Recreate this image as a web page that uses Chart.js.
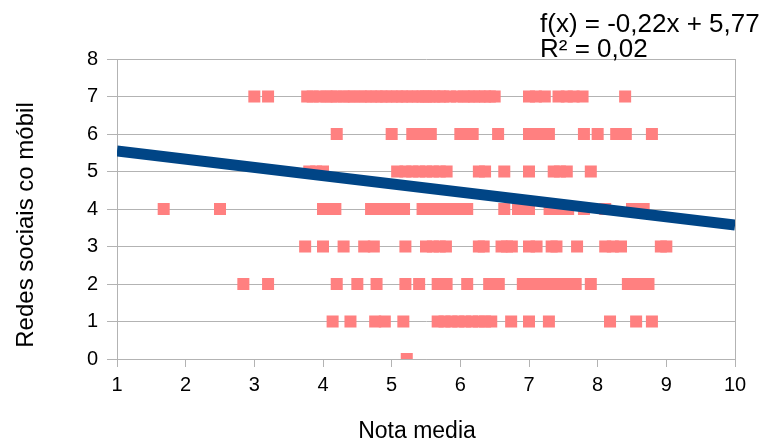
<!DOCTYPE html>
<html>
<head>
<meta charset="utf-8">
<script src="https://cdn.jsdelivr.net/npm/chart.js@4/dist/chart.umd.min.js"></script>
<style>
  html, body { margin: 0; padding: 0; background: #ffffff; }
  #wrap { width: 767px; height: 446px; position: relative; }
</style>
</head>
<body>
<div id="wrap"><canvas id="c" width="767" height="446"></canvas></div>
<script>
// ---- Data ----
const xTitle = "Nota media";
const yTitle = "Redes sociais co móbil";
const trendLabel1 = "f(x) = -0,22x + 5,77";
const trendLabel2 = "R² = 0,02";

// x values (Nota media) for each y level (Redes sociais co móbil)
const notaRow7 = [3.0, 3.2, 3.77, 3.85, 3.95, 4.05, 4.12, 4.2, 4.3, 4.38, 4.45, 4.55, 4.62, 4.7, 4.78, 4.85, 4.92, 5.0, 5.08, 5.15, 5.22, 5.3, 5.38, 5.45, 5.5, 5.55, 5.62, 5.7, 5.75, 5.85, 5.95, 6.05, 6.12, 6.2, 6.28, 6.36, 6.43, 6.5, 7.0, 7.1, 7.23, 7.43, 7.55, 7.65, 7.78, 8.4];
const notaRow6 = [4.2, 5.0, 5.3, 5.42, 5.57, 6.0, 6.1, 6.18, 6.55, 7.0, 7.15, 7.29, 7.8, 8.0, 8.27, 8.41, 8.79];
const notaRow5 = [3.8, 3.9, 4.0, 5.08, 5.2, 5.3, 5.4, 5.5, 5.6, 5.7, 5.8, 6.27, 6.36, 6.64, 7.0, 7.36, 7.45, 7.55, 7.9];
const notaRow4 = [1.68, 2.5, 4.0, 4.1, 4.18, 4.7, 4.8, 4.9, 5.0, 5.1, 5.18, 5.45, 5.55, 5.65, 5.75, 5.85, 5.95, 6.03, 6.1, 6.64, 6.84, 6.92, 7.0, 7.3, 7.4, 7.5, 7.57, 7.8, 8.11, 8.5, 8.67];
const notaRow3 = [3.74, 4.0, 4.3, 4.6, 4.74, 5.2, 5.5, 5.6, 5.7, 5.79, 6.27, 6.34, 6.6, 6.68, 6.75, 7.0, 7.11, 7.33, 7.4, 7.7, 8.11, 8.22, 8.34, 8.92, 9.0];
const notaRow2 = [2.84, 3.2, 4.2, 4.5, 4.78, 5.2, 5.4, 5.67, 5.8, 6.1, 6.42, 6.56, 6.91, 7.0, 7.1, 7.2, 7.3, 7.4, 7.5, 7.6, 7.68, 7.9, 8.44, 8.6, 8.74];
const notaRow1 = [4.14, 4.4, 4.76, 4.9, 5.17, 5.67, 5.77, 5.87, 5.97, 6.07, 6.17, 6.27, 6.36, 6.45, 6.74, 7.0, 7.29, 8.18, 8.56, 8.79];
const notaRow0 = [5.22];

const rowLevels = [0, 1, 2, 3, 4, 5, 6, 7];
const rows = [notaRow0, notaRow1, notaRow2, notaRow3, notaRow4, notaRow5, notaRow6, notaRow7];

// Trend line end points (from f(x) = -0,22x + 5,77)
const trendX = [1, 10];
const trendY = [5.55, 3.57];

const xTicks = [1, 2, 3, 4, 5, 6, 7, 8, 9, 10];
const yTicks = [0, 1, 2, 3, 4, 5, 6, 7, 8];

// ---- Build datasets ----
const scatterPoints = [];
rows.forEach((r, i) => r.forEach(x => scatterPoints.push({ x: x, y: rowLevels[i] })));
const trendPoints = trendX.map((x, i) => ({ x: x, y: trendY[i] }));

const FONT = "'Liberation Sans', Arial, sans-serif";
const GRID = '#b3b3b3';

const extras = {
  id: 'extras',
  afterDraw(chart) {
    const ctx = chart.ctx;
    const a = chart.chartArea;
    ctx.save();
    // right border of plot area
    ctx.strokeStyle = GRID;
    ctx.lineWidth = 1;
    ctx.beginPath();
    ctx.moveTo(Math.round(a.right) + 0.5, a.top);
    ctx.lineTo(Math.round(a.right) + 0.5, a.bottom);
    ctx.stroke();

    ctx.fillStyle = '#000000';
    // axis titles
    ctx.font = '23px ' + FONT;
    ctx.textAlign = 'center';
    ctx.textBaseline = 'middle';
    ctx.fillText(xTitle, 417, 432);
    ctx.save();
    ctx.translate(26, 225);
    ctx.rotate(-Math.PI / 2);
    ctx.font = '24px ' + FONT;
    ctx.fillText(yTitle, 0, 0);
    ctx.restore();

    // regression equation
    ctx.font = '26px ' + FONT;
    ctx.textAlign = 'left';
    ctx.textBaseline = 'alphabetic';
    ctx.fillText(trendLabel1, 540, 32);
    ctx.fillText(trendLabel2, 540, 57);
    ctx.restore();
  }
};

new Chart(document.getElementById('c'), {
  type: 'scatter',
  data: {
    datasets: [
      {
        type: 'line',
        label: 'trend',
        data: trendPoints,
        borderColor: '#004586',
        borderWidth: 11,
        borderCapStyle: 'butt',
        pointRadius: 0,
        fill: false,
        order: 0
      },
      {
        label: 'Redes sociais co móbil',
        data: scatterPoints,
        backgroundColor: '#ff8080',
        borderWidth: 0,
        pointStyle: 'rect',
        pointRadius: 8.5,
        order: 1
      }
    ]
  },
  options: {
    responsive: false,
    animation: false,
    devicePixelRatio: 1,
    layout: { padding: { left: 0, right: 32, top: 59, bottom: 0 } },
    plugins: { legend: { display: false }, tooltip: { enabled: false } },
    scales: {
      x: {
        type: 'linear',
        min: 1, max: 10,
        afterBuildTicks(scale) { scale.ticks = xTicks.map(v => ({ value: v })); },
        afterFit(scale) { scale.height = 87; },
        grid: { drawOnChartArea: false, drawTicks: true, tickLength: 8, color: GRID },
        border: { color: GRID },
        ticks: { color: '#000', font: { family: FONT, size: 20 }, padding: 6, maxRotation: 0 }
      },
      y: {
        type: 'linear',
        min: 0, max: 8,
        afterBuildTicks(scale) { scale.ticks = yTicks.map(v => ({ value: v })); },
        afterFit(scale) { scale.width = 117; },
        grid: { drawOnChartArea: true, drawTicks: true, tickLength: 10, color: GRID },
        border: { color: GRID },
        ticks: { color: '#000', font: { family: FONT, size: 20 }, padding: 9 }
      }
    }
  },
  plugins: [extras]
});
</script>
</body>
</html>
